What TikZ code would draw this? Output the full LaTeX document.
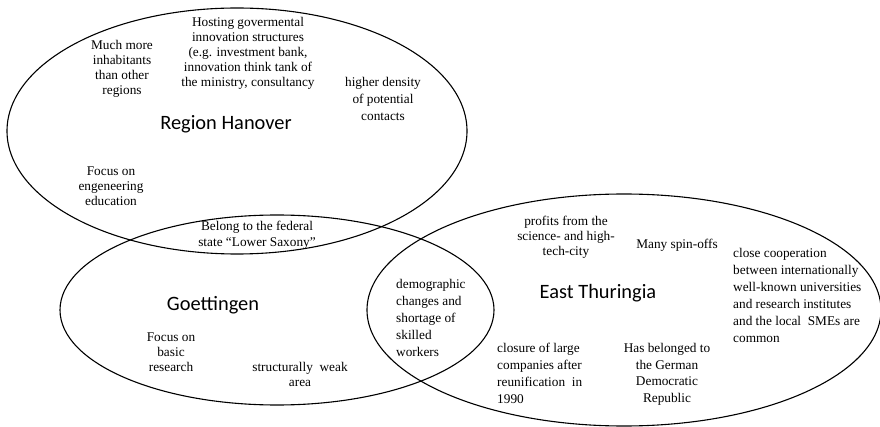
\documentclass[tikz,border=0pt]{standalone}
\usepackage{fontspec}
\setmainfont{Liberation Serif}
\newfontfamily\labfont{Carlito}
\usetikzlibrary{shapes.geometric}
\tikzset{
  region/.style={draw, ellipse, line width=1.1pt, inner sep=0pt, outer sep=0pt},
  txt/.style={font=\fontsize{13.3pt}{15pt}\selectfont, inner sep=0pt, align=center},
  txtw/.style={font=\fontsize{13.3pt}{17pt}\selectfont, inner sep=0pt, align=center},
  txtl/.style={font=\fontsize{13.3pt}{17pt}\selectfont, inner sep=0pt, align=left, anchor=west},
  title/.style={font=\labfont\fontsize{20.4pt}{24pt}\selectfont, inner sep=0pt}
}
\begin{document}
\begin{tikzpicture}[x=1pt,y=-1pt]
\useasboundingbox (0,0) rectangle (880,427);
% ellipses
\node[region, minimum width=460pt, minimum height=246pt] (han) at (237,131) {};
\node[region, minimum width=434pt, minimum height=190pt] (goe) at (277,310) {};
\node[region, minimum width=514pt, minimum height=232pt] (thu) at (624,310) {};
% titles
\node[title] (hanT) at (226,124) {Region Hanover};
\node[title] (goeT) at (213,305) {Goettingen};
\node[title] (thuT) at (598,293) {East Thuringia};
% Hanover texts
\node[txt] (h1) at (122,69) {Much more\\inhabitants\\than other\\regions};
\node[txt] (h2) at (248,53) {Hosting govermental\\innovation structures\\(e.g. investment bank,\\innovation think tank of\\the ministry, consultancy};
\node[txtw] (h3) at (383,99) {higher density\\of potential\\contacts};
\node[txt] (h4) at (111,186) {Focus on\\engeneering\\education};
\node[txt, font=\fontsize{13.3pt}{16pt}\selectfont] (h5) at (257,235) {Belong to the federal\\state “Lower Saxony”};
% Goettingen texts
\node[txt] (g1) at (171,352) {Focus on\\basic\\research};
\node[txt] (g2) at (300,374) {structurally\ \ weak\\area};
\node[txtl] (g3) at (396,318) {demographic\\changes and\\shortage of\\skilled\\workers};
% Thuringia texts
\node[txt] (t1) at (566,237) {profits from the\\science-\ and high-\\tech-city};
\node[txt] (t2) at (677,245) {Many spin-offs};
\node[txtl] (t3) at (733,295.5) {close cooperation\\between internationally\\well-known universities\\and research institutes\\and the local\ \ SMEs are\\common};
\node[txtl] (t4) at (497,373.5) {closure of large\\companies after\\reunification\ \ in\\1990};
\node[txtw, font=\fontsize{13.3pt}{16.5pt}\selectfont] (t5) at (667,374.5) {Has belonged to\\the German\\Democratic\\Republic};
\end{tikzpicture}
\end{document}
